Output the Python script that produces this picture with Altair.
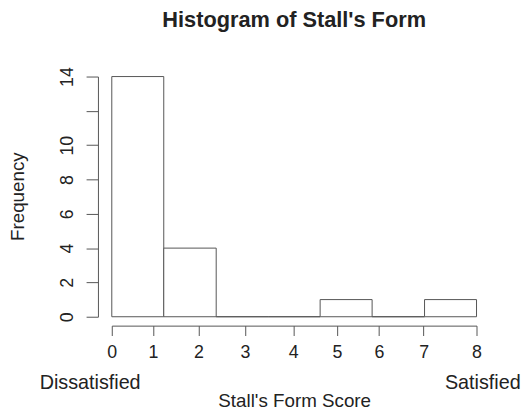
import altair as alt
import pandas as pd

# Histogram bins
bin_start = [0.0, 1.14, 2.29, 3.43, 4.57, 5.71, 6.86]
bin_end = [1.14, 2.29, 3.43, 4.57, 5.71, 6.86, 8.0]
counts = [14, 4, 0, 0, 1, 0, 1]

# x-axis tick positions and labels as drawn
x_tick_values = [0, 0.9, 1.9, 2.92, 3.98, 4.94, 5.86, 6.84, 8]
x_tick_labels = ["0", "1", "2", "3", "4", "5", "6", "7", "8"]

# y-axis ticks (label "12" omitted in the original)
y_tick_values = [0, 2, 4, 6, 8, 10, 12, 14]
y_tick_labels = ["0", "2", "4", "6", "8", "10", "", "14"]

df = pd.DataFrame({"start": bin_start, "end": bin_end, "count": counts})

FONT = "Liberation Sans"
GRAY = "#555555"
TXT = "#222222"

x_expr = "[" + ",".join("'%s'" % l for l in x_tick_labels) + "][indexof([" + ",".join(str(v) for v in x_tick_values) + "], datum.value)]"
y_expr = "[" + ",".join("'%s'" % l for l in y_tick_labels) + "][indexof([" + ",".join(str(v) for v in y_tick_values) + "], datum.value)]"

bars = alt.Chart(df).mark_rect(fill="white", stroke=GRAY, strokeWidth=1).encode(
    x=alt.X("start:Q",
            scale=alt.Scale(domain=[0, 8], nice=False, zero=False),
            axis=alt.Axis(values=x_tick_values, labelExpr=x_expr, offset=9, tickSize=10,
                          domainColor=GRAY, tickColor=GRAY, labelFontSize=18, labelColor=TXT,
                          labelPadding=8, grid=False, labelFont=FONT, labelFlush=False,
                          labelOverlap=False,
                          title="Stall's Form Score", titleFontSize=19, titleFontWeight="normal",
                          titleFont=FONT, titleColor=TXT, titleY=82, titleBaseline="alphabetic")),
    x2="end:Q",
    y=alt.Y("count:Q",
            scale=alt.Scale(domain=[0, 14], nice=False),
            axis=alt.Axis(values=y_tick_values, labelExpr=y_expr, offset=14, tickSize=12,
                          domainColor=GRAY, tickColor=GRAY, labelFontSize=18, labelColor=TXT,
                          labelAngle=270, labelAlign="center", labelBaseline="bottom",
                          labelPadding=10, grid=False, labelFont=FONT, labelFlush=False,
                          labelOverlap=False,
                          title="Frequency", titleFontSize=19, titleFontWeight="normal",
                          titleFont=FONT, titleColor=TXT, titleAngle=270, titleX=-81, titleY=121,
                          titleAlign="center", titleBaseline="middle")),
    y2=alt.datum(0),
)

ann_left = alt.Chart(pd.DataFrame({"t": ["Dissatisfied"]})).mark_text(
    align="left", baseline="alphabetic", font=FONT, fontSize=20, color=TXT
).encode(text="t:N", x=alt.value(-73), y=alt.value(316))

ann_right = alt.Chart(pd.DataFrame({"t": ["Satisfied"]})).mark_text(
    align="left", baseline="alphabetic", font=FONT, fontSize=20, color=TXT
).encode(text="t:N", x=alt.value(337), y=alt.value(316))

chart = alt.layer(bars, ann_left, ann_right).properties(
    width=369, height=243,
    background="white",
    title=alt.TitleParams("Histogram of Stall's Form", fontSize=22, fontWeight="bold",
                          font=FONT, color=TXT, anchor="middle", offset=18,
                          baseline="alphabetic"),
    autosize=alt.AutoSizeParams(type="none"),
    padding={"left": 105, "top": 67, "right": 45, "bottom": 92},
).configure_view(stroke=None)

chart.save("out.html", embed_options={"renderer": "svg", "actions": False})
